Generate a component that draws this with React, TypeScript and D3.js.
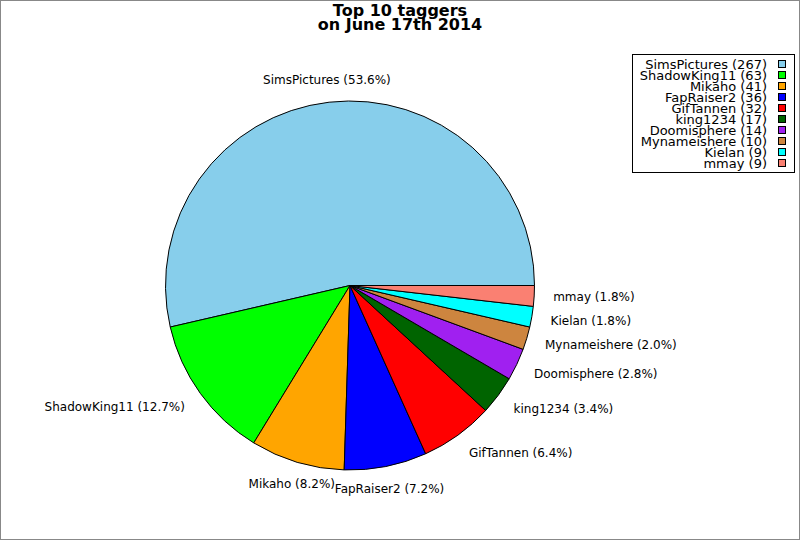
import React from 'react';
import * as d3 from 'd3';

const taggers = ['SimsPictures', 'ShadowKing11', 'Mikaho', 'FapRaiser2', 'GifTannen', 'king1234', 'Doomisphere', 'Mynameishere', 'Kielan', 'mmay'];
const tagCounts = [267, 63, 41, 36, 32, 17, 14, 10, 9, 9];
const sliceColors = ['#87ceeb', '#00ff00', '#ffa500', '#0000ff', '#ff0000', '#006400', '#a020f0', '#cd853f', '#00ffff', '#fa8072'];
const titleLines = ['Top 10 taggers', 'on June 17th 2014'];

const W = 800;
const H = 540;
const cx = 350;
const cy = 285.5;
const radius = 184.5;
const labelRadius = 203.5;
const font = 'DejaVu Sans, sans-serif';

export default function App() {
  const total = d3.sum(tagCounts);
  const rows = taggers.map((name, i) => ({ name, count: tagCounts[i], color: sliceColors[i] }));

  // counter-clockwise from 3 o'clock
  const pie = d3.pie<typeof rows[number]>()
    .value(d => d.count)
    .sort(null)
    .startAngle(Math.PI / 2)
    .endAngle(Math.PI / 2 - Math.PI * 2);
  const arcs = pie(rows);
  const arc = d3.arc<d3.PieArcDatum<typeof rows[number]>>().innerRadius(0).outerRadius(radius);

  const legendY = d3.scaleLinear().domain([0, 1]).range([64, 75]);

  return (
    <div style={{ position: 'absolute', left: 0, top: 0 }}>
      <svg width={W} height={H} style={{ display: 'block', fontFamily: font }}>
        <rect x={0.5} y={0.5} width={W - 1} height={H - 1} fill="#fff" stroke="#888" />

        <text textAnchor="middle" fontWeight="bold" fontSize={16}>
          {titleLines.map((t, i) => (
            <tspan key={t} x={400} y={16 + i * 14}>{t}</tspan>
          ))}
        </text>

        <g transform={`translate(${cx},${cy})`}>
          {arcs.map(a => (
            <path key={a.data.name} d={arc(a) || ''} fill={a.data.color} stroke="#000" strokeWidth={1} />
          ))}
          {arcs.map(a => {
            const mid = (a.startAngle + a.endAngle) / 2;
            const dx = Math.sin(mid);
            const dy = -Math.cos(mid);
            const anchor = dx > 0.3 ? 'start' : dx < -0.3 ? 'end' : 'middle';
            return (
              <text
                key={a.data.name}
                x={labelRadius * dx}
                y={labelRadius * dy + dy * 3.5}
                textAnchor={anchor}
                dominantBaseline="central"
                fontSize={12}
                fill="#000"
              >
                {`${a.data.name} (${((a.data.count / total) * 100).toFixed(1)}%)`}
              </text>
            );
          })}
        </g>

        <g>
          <rect x={632.5} y={54.5} width={162} height={118} fill="#fff" stroke="#000" />
          {rows.map((r, i) => (
            <g key={r.name}>
              <text x={767} y={legendY(i)} textAnchor="end" dominantBaseline="central" fontSize={13}>
                {`${r.name} (${r.count})`}
              </text>
              <rect x={778.5} y={legendY(i) - 3.5} width={7} height={7} fill={r.color} stroke="#000" />
            </g>
          ))}
        </g>
      </svg>
    </div>
  );
}
